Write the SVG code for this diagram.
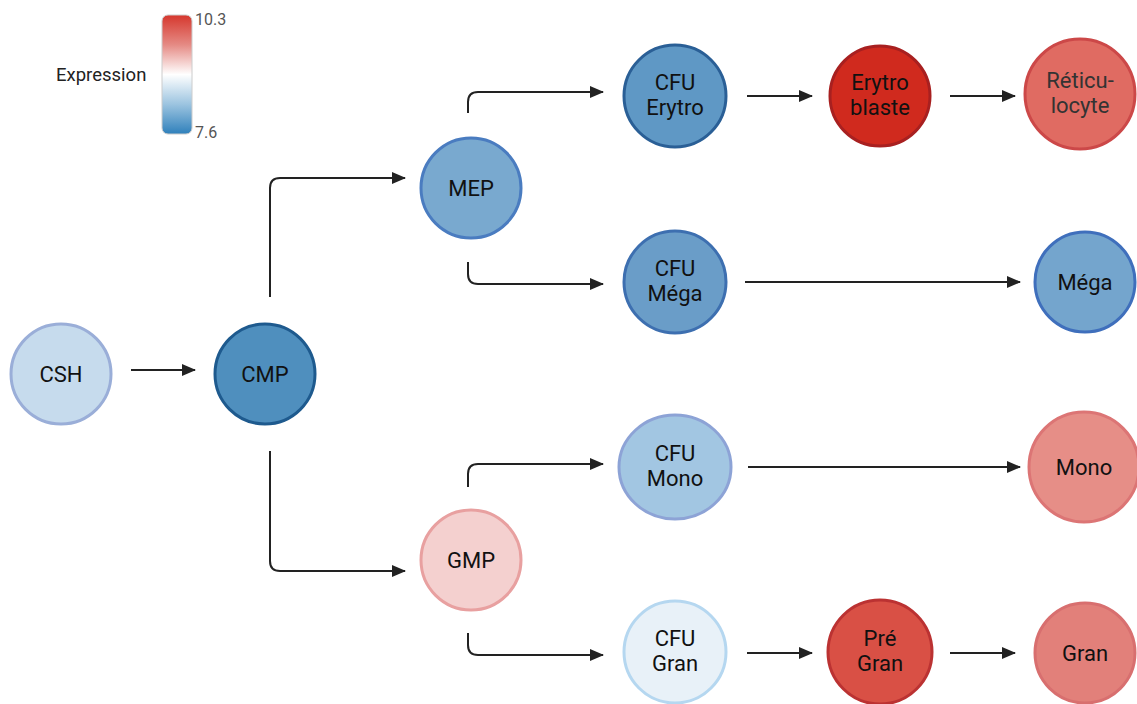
<svg xmlns="http://www.w3.org/2000/svg" width="1137" height="704" viewBox="0 0 1137 704">
<defs>
<linearGradient id="grad" x1="0" y1="0" x2="0" y2="1">
<stop offset="0" stop-color="#d6372d"/>
<stop offset="0.25" stop-color="#e58a84"/>
<stop offset="0.5" stop-color="#ffffff"/>
<stop offset="0.75" stop-color="#9cc4e0"/>
<stop offset="1" stop-color="#2f80bb"/>
</linearGradient>
<marker id="ah" markerWidth="14" markerHeight="12" refX="13" refY="6" orient="auto" markerUnits="userSpaceOnUse">
<path d="M0,0 L14,6 L0,12 Z" fill="#222"/>
</marker>
<style>
.n{stroke-width:3}
.t{font-family:Roboto,"Liberation Sans",sans-serif;font-size:22px;fill:#111;text-anchor:middle}
.c{fill:none;stroke:#222;stroke-width:2;marker-end:url(#ah)}
.lg{font-family:Roboto,"Liberation Sans",sans-serif;font-size:16px;fill:#555}
</style>
</defs>
<rect width="1137" height="704" fill="#fff"/>
<g id="legend">
<rect x="162" y="15" width="30" height="119" rx="6" fill="url(#grad)" stroke="#ccc" stroke-width="1"/>
<text x="56" y="81" style="font-family:Roboto,'Liberation Sans',sans-serif;font-size:18.5px;fill:#222">Expression</text>
<text class="lg" x="195" y="25">10.3</text>
<text class="lg" x="195" y="138">7.6</text>
</g>
<g id="connectors">
<path class="c" d="M131,370 H195"/>
<path class="c" d="M270,297 V188 Q270,178 280,178 H405"/>
<path class="c" d="M270,451 V561 Q270,571 280,571 H405"/>
<path class="c" d="M468,113 V102 Q468,92 478,92 H603"/>
<path class="c" d="M468,262 V274 Q468,284 478,284 H603"/>
<path class="c" d="M468,487 V474 Q468,464 478,464 H603"/>
<path class="c" d="M468,633 V645 Q468,655 478,655 H603"/>
<path class="c" d="M747,96 H812"/>
<path class="c" d="M950,96 H1015"/>
<path class="c" d="M745,282 H1020"/>
<path class="c" d="M748,467 H1020"/>
<path class="c" d="M747,653 H812"/>
<path class="c" d="M950,653 H1015"/>
</g>
<g id="CSH"><circle class="n" cx="61" cy="374" r="50" fill="#c6dbed" stroke="#9aaed8"/><text class="t" x="61" y="382">CSH</text></g>
<g id="CMP"><circle class="n" cx="265" cy="374" r="50" fill="#4f8fbe" stroke="#1e5a8e"/><text class="t" x="265" y="382">CMP</text></g>
<g id="MEP"><circle class="n" cx="471" cy="188" r="50" fill="#79a9cf" stroke="#4a7cc0"/><text class="t" x="471" y="196">MEP</text></g>
<g id="GMP"><circle class="n" cx="471" cy="560" r="50" fill="#f4d0cf" stroke="#e8a0a0"/><text class="t" x="471" y="568">GMP</text></g>
<g id="CFU-Erytro"><circle class="n" cx="675" cy="96" r="51" fill="#5f98c5" stroke="#2a5f96"/><text class="t" x="675" y="90">CFU</text><text class="t" x="675" y="115">Erytro</text></g>
<g id="Erytroblaste"><circle class="n" cx="880" cy="96" r="50" fill="#d02a1e" stroke="#a82020"/><text class="t" x="880" y="90">Erytro</text><text class="t" x="880" y="115">blaste</text></g>
<g id="Reticulocyte"><circle class="n" cx="1080" cy="94" r="55" fill="#e06b62" stroke="#cc4848"/><text class="t" x="1080" y="88" style="fill:#333">Réticu-</text><text class="t" x="1080" y="113" style="fill:#333">locyte</text></g>
<g id="CFU-Mega"><circle class="n" cx="675" cy="282" r="51" fill="#6a9dc8" stroke="#3d6fb0"/><text class="t" x="675" y="276">CFU</text><text class="t" x="675" y="301">Méga</text></g>
<g id="Mega"><circle class="n" cx="1085" cy="282" r="50" fill="#74a5cd" stroke="#3f6fbc"/><text class="t" x="1085" y="290">Méga</text></g>
<g id="CFU-Mono"><ellipse class="n" cx="675" cy="467" rx="56" ry="52" fill="#a2c6e2" stroke="#8da3d6"/><text class="t" x="675" y="461">CFU</text><text class="t" x="675" y="486">Mono</text></g>
<g id="Mono"><circle class="n" cx="1084" cy="467" r="55" fill="#e68e87" stroke="#dc7575"/><text class="t" x="1084" y="475">Mono</text></g>
<g id="CFU-Gran"><circle class="n" cx="675" cy="652" r="51" fill="#e8f1f8" stroke="#b5d7f0"/><text class="t" x="675" y="646">CFU</text><text class="t" x="675" y="671">Gran</text></g>
<g id="Pre-Gran"><circle class="n" cx="880" cy="652" r="52" fill="#d95045" stroke="#bb3232"/><text class="t" x="880" y="646">Pré</text><text class="t" x="880" y="671">Gran</text></g>
<g id="Gran"><circle class="n" cx="1085" cy="653" r="50" fill="#e2807a" stroke="#d86f6f"/><text class="t" x="1085" y="661">Gran</text></g>
</svg>
